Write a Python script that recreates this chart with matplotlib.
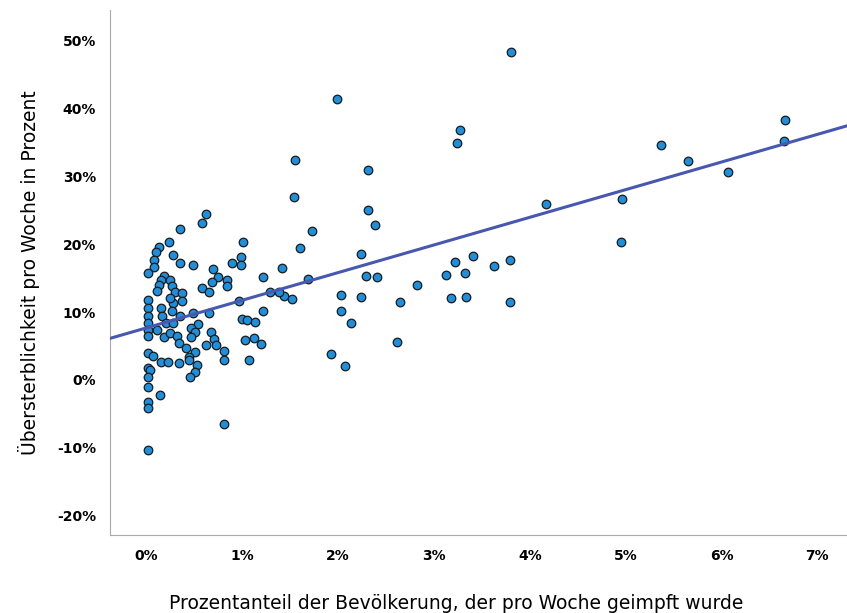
import matplotlib
matplotlib.use("Agg")
import matplotlib.pyplot as plt
import numpy as np
from matplotlib.ticker import FuncFormatter

x = [0.62,0.58,0.35,0.23,0.13,0.10,0.08,0.08,0.02,0.28,0.35,0.49,1.01,0.99,0.99,0.89,0.69,1.22,
     0.18,0.15,0.24,0.13,0.11,0.27,0.30,0.37,0.37,0.28,0.25,0.75,0.84,0.84,0.68,0.58,0.65,0.96,1.22,
     0.02,0.02,0.02,0.02,0.02,0.02,0.15,0.16,0.27,0.35,0.48,0.65,0.54,0.46,0.51,0.46,0.20,0.28,0.11,
     0.18,0.25,0.32,0.67,0.70,0.72,0.62,0.34,0.41,0.51,0.44,0.44,0.81,0.81,1.03,1.12,1.19,1.07,1.00,
     1.05,1.13,0.02,0.07,0.15,0.22,0.34,0.02,0.04,0.02,0.02,0.53,0.51,0.45,0.14,0.02,0.02,0.81,0.02,
     1.55,1.54,1.60,1.73,1.41,1.43,1.52,1.29,1.38,1.68,1.99,2.31,2.31,2.38,2.24,2.29,2.41,2.24,2.03,
     2.03,2.13,1.92,2.07,2.65,2.61,2.82,3.27,3.24,3.13,3.22,3.32,3.41,3.18,3.33,3.63,3.79,3.79,3.80,
     4.17,4.96,4.95,5.37,5.65,6.07,6.66,6.65]
y = [24.5,23.2,22.3,20.3,19.6,18.8,17.7,16.6,15.7,18.5,17.3,17.0,20.4,18.1,17.0,17.2,16.4,15.2,
     15.3,14.8,14.8,14.0,13.1,13.8,13.0,12.8,11.6,11.3,12.1,15.2,14.7,13.8,14.4,13.5,13.0,11.6,10.1,
     11.8,10.6,9.4,8.4,7.4,6.5,10.6,9.4,10.1,9.4,9.8,9.8,8.3,7.6,7.0,6.3,8.4,8.4,7.4,
     6.4,6.9,6.5,7.1,6.1,5.2,5.2,5.4,4.7,4.1,3.4,3.0,4.3,2.9,5.9,6.2,5.3,2.9,9.0,
     8.9,8.5,3.9,3.5,2.6,2.6,2.5,1.7,1.4,0.5,-1.0,2.2,1.2,0.4,-2.2,-3.3,-4.2,-6.5,-10.3,
     32.5,27.0,19.5,22.0,16.5,12.4,12.0,13.0,13.0,14.9,41.4,31.0,25.0,22.9,18.6,15.4,15.2,12.3,12.6,
     10.2,8.4,3.8,2.1,11.5,5.6,14.0,36.8,34.9,15.5,17.4,15.7,18.3,12.1,12.3,16.8,17.7,11.5,48.4,
     25.9,26.7,20.4,34.6,32.3,30.6,38.4,35.3]
xticks = [0,1,2,3,4,5,6,7]
yticks = [-20,-10,0,10,20,30,40,50]

fig = plt.figure(figsize=(8.47,6.13), dpi=100)
ax = fig.add_axes([0.13, 0.127, 0.87, 0.857])
ax.scatter(x, y, s=38, c='#1e8fdc', edgecolors='#1a1a1a', linewidths=0.9, zorder=3)
xl = (-0.38, 7.31)
b, a = np.polyfit(x, y, 1)
xs = np.array(xl)
ax.plot(xs, a + b*xs, color='#4858b0', lw=2.2, zorder=4)
ax.set_xlim(*xl); ax.set_ylim(-22.9, 54.6)
ax.set_xticks(xticks); ax.set_yticks(yticks)
fmt = FuncFormatter(lambda v, p: f"{v:.0f}%")
ax.xaxis.set_major_formatter(fmt); ax.yaxis.set_major_formatter(fmt)
for s in ['top','right']:
    ax.spines[s].set_visible(False)
for s in ['left','bottom']:
    ax.spines[s].set_color('#aaaaaa')
ax.tick_params(length=0, labelsize=10, pad=10)
for t in ax.get_xticklabels()+ax.get_yticklabels():
    t.set_fontweight('bold')
ax.set_xlabel('Prozentanteil der Bevölkerung, der pro Woche geimpft wurde', fontsize=13.5, labelpad=22, x=0.47)
ax.set_ylabel('Übersterblichkeit pro Woche in Prozent', fontsize=13.5, labelpad=12)
fig.savefig('out.png', dpi=100)
